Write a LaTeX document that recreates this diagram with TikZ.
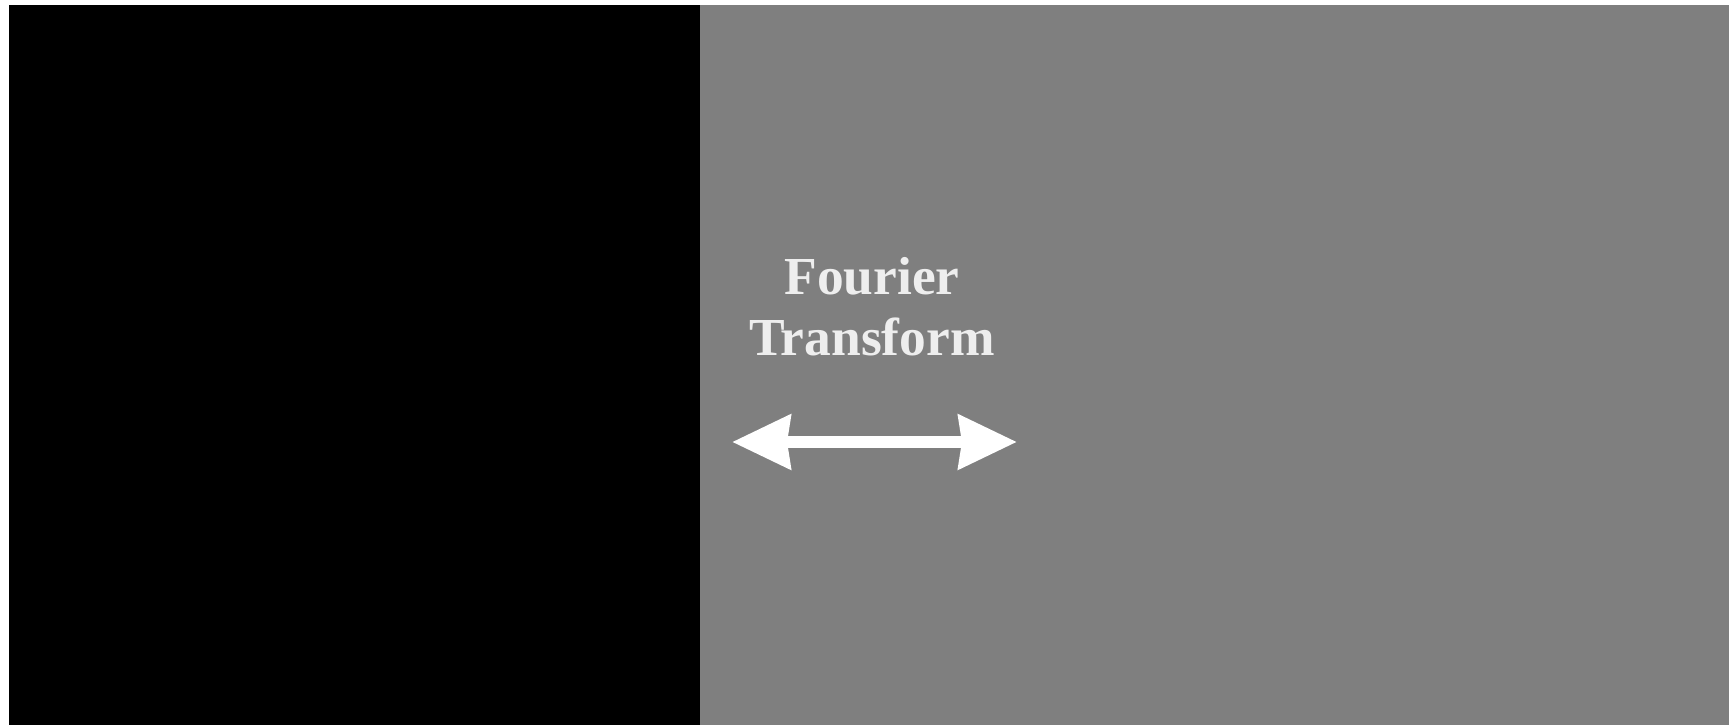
\documentclass[tikz,border=0pt]{standalone}
\usepackage{fontspec}
\setmainfont{Liberation Serif}
\usetikzlibrary{arrows.meta}
\definecolor{lightside}{RGB}{127,127,127}
\definecolor{labelwhite}{RGB}{238,238,238}

\begin{document}
\begin{tikzpicture}[
    x=0.01cm, y=-0.01cm,
    ftlabel/.style={align=center, inner sep=0pt, text=labelwhite,
                    font=\bfseries\fontsize{15.2}{17.4}\selectfont},
    ftarrow/.style={{Stealth[length=5.8mm,width=5.3mm,inset=0.3mm]}-{Stealth[length=5.8mm,width=5.3mm,inset=0.3mm]},
                    line width=1.25mm, white},
]
% --- page and margins ---
\fill[white] (0,0) rectangle (1729,725);
\useasboundingbox (0,0) rectangle (1729,725);

% --- the two halves ---
\fill[black] (9,5) rectangle (700,725);
\fill[lightside] (700,5) rectangle (1729,725);

% --- label and double arrow ---
\node[ftlabel, anchor=north] (ft) at (872,257) {Fourier\\Transform};
\coordinate (ftleft) at (732,442);
\coordinate (ftright) at (1017,442);
\draw[ftarrow] (ftleft) -- (ftright);
\end{tikzpicture}
\end{document}
